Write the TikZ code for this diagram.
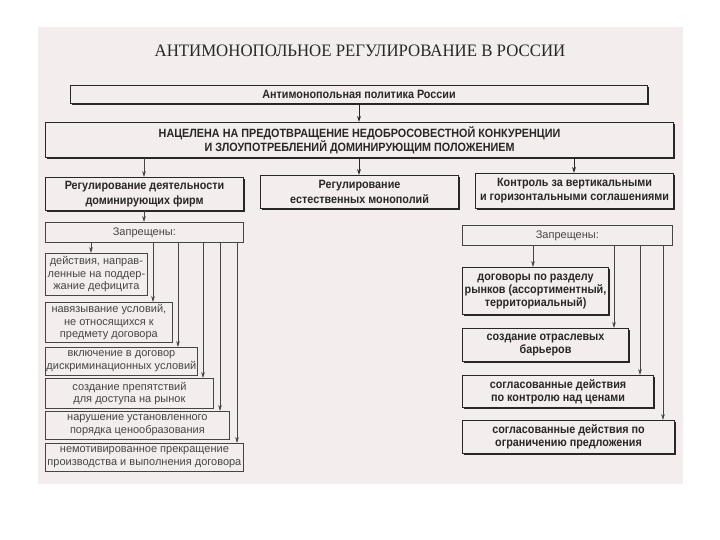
\documentclass[tikz,border=0pt]{standalone}
\usepackage{fontspec}
\setmainfont{Liberation Sans}
\newfontfamily\titlefont[FakeStretch=0.96]{Liberation Serif}
\newfontfamily\narfont[FakeStretch=0.9]{Liberation Sans}
\usetikzlibrary{arrows.meta,shadows}
\definecolor{paper}{RGB}{243,238,237}
\definecolor{ink}{RGB}{40,38,38}
\definecolor{greyink}{RGB}{70,68,68}
\tikzset{
  mainbox/.style={draw=ink, line width=1.1pt, fill=paper, inner sep=0pt, align=center,
    anchor=north west, text=ink,
    font=\narfont\bfseries\fontsize{12}{15}\selectfont,
    drop shadow={shadow xshift=1.3pt, shadow yshift=-1.3pt, fill=ink, opacity=1}},
  zbox/.style={draw=greyink, line width=0.7pt, fill=paper, inner sep=0pt, align=center,
    anchor=north west, text=greyink, font=\fontsize{11}{13}\selectfont},
  listbox/.style={draw=greyink, line width=0.8pt, fill=paper, inner sep=0pt, align=center,
    anchor=north west, text=greyink, font=\fontsize{11}{12.6}\selectfont,
    drop shadow={shadow xshift=1pt, shadow yshift=-1pt, fill=greyink, opacity=1}},
  rbox/.style={mainbox, font=\narfont\bfseries\fontsize{12}{13}\selectfont},
  arr/.style={draw=greyink, line width=0.7pt, -{Stealth[length=6pt,width=3.6pt]}},
  darr/.style={draw=ink, line width=1pt, -{Stealth[length=6pt,width=3.8pt]}},
}
\begin{document}
\begin{tikzpicture}[x=1pt,y=-1pt]
\useasboundingbox (0,0) rectangle (720,540);
\fill[white] (0,0) rectangle (720,540);
\fill[paper] (38,27) rectangle (683,484);

\node[font=\titlefont\fontsize{17.5}{19}\selectfont, text=ink] (title) at (360,51)
  {АНТИМОНОПОЛЬНОЕ РЕГУЛИРОВАНИЕ В РОССИИ};

\node[mainbox, minimum width=577pt, minimum height=18pt] (pol) at (70,85)
  {Антимонопольная политика России};
\node[mainbox, minimum width=628pt, minimum height=35pt,
  font=\narfont\bfseries\fontsize{12}{12.5}\selectfont] (aim) at (45,122)
  {НАЦЕЛЕНА НА ПРЕДОТВРАЩЕНИЕ НЕДОБРОСОВЕСТНОЙ КОНКУРЕНЦИИ\\И ЗЛОУПОТРЕБЛЕНИЙ ДОМИНИРУЮЩИМ ПОЛОЖЕНИЕМ};

\node[mainbox, minimum width=198pt, minimum height=33pt] (L) at (45,177)
  {Регулирование деятельности\\доминирующих фирм};
\node[mainbox, minimum width=198pt, minimum height=33pt] (M) at (260,175)
  {Регулирование\\естественных монополий};
\node[mainbox, minimum width=198pt, minimum height=35pt,
  font=\narfont\bfseries\fontsize{12}{14}\selectfont] (R) at (475,173)
  {Контроль за вертикальными\\и горизонтальными соглашениями};

\coordinate (xl) at (144,0);
\coordinate (xm) at (359,0);
\coordinate (xr) at (574,0);
\draw[darr] (pol.south -| xm) -- (aim.north -| xm);
\draw[arr] (aim.south -| xl) -- (L.north -| xl);
\draw[darr] (aim.south -| xm) -- (M.north -| xm);
\draw[darr] (aim.south -| xr) -- (R.north -| xr);

% left branch
\node[zbox, minimum width=198pt, minimum height=20pt] (ZL) at (45,222) {Запрещены:};
\draw[arr] (L.south -| xl) -- (ZL.north -| xl);

\node[listbox, minimum width=102pt, minimum height=42pt] (a1) at (45,253)
  {действия, направ-\\ленные на поддер-\\жание дефицита};
\node[listbox, minimum width=127pt, minimum height=40pt] (a2) at (45,302)
  {навязывание условий,\\не относящихся к\\предмету договора};
\node[listbox, minimum width=152pt, minimum height=28pt] (a3) at (45,347)
  {включение в договор\\дискриминационных условий};
\node[listbox, minimum width=168pt, minimum height=30pt] (a4) at (45,378)
  {создание препятствий\\для доступа на рынок};
\node[listbox, minimum width=184pt, minimum height=28pt] (a5) at (45,411)
  {нарушение установленного\\порядка ценообразования};
\node[listbox, minimum width=198pt, minimum height=28pt] (a6) at (45,443)
  {немотивированное прекращение\\производства и выполнения договора};

\coordinate (l1) at (91,0);
\coordinate (l2) at (153,0);
\coordinate (l3) at (178,0);
\coordinate (l4) at (203,0);
\coordinate (l5) at (220,0);
\coordinate (l6) at (237,0);
\draw[arr] (ZL.south -| l1) -- (a1.north -| l1);
\draw[arr] (ZL.south -| l2) -- (a2.north -| l2);
\draw[arr] (ZL.south -| l3) -- (a3.north -| l3);
\draw[arr] (ZL.south -| l4) -- (a4.north -| l4);
\draw[arr] (ZL.south -| l5) -- (a5.north -| l5);
\draw[arr] (ZL.south -| l6) -- (a6.north -| l6);

% right branch
\node[zbox, minimum width=210pt, minimum height=20pt] (ZR) at (462,225) {Запрещены:};

\node[rbox, minimum width=146pt, minimum height=47pt] (b1) at (462,267)
  {договоры по разделу\\рынков (ассортиментный,\\территориальный)};
\node[rbox, minimum width=166pt, minimum height=33pt] (b2) at (462,328)
  {создание отраслевых\\барьеров};
\node[rbox, minimum width=191pt, minimum height=32pt] (b3) at (462,375)
  {согласованные действия\\по контролю над ценами};
\node[rbox, minimum width=212pt, minimum height=33pt] (b4) at (462,420)
  {согласованные действия по\\ограничению предложения};

\coordinate (r1) at (533,0);
\coordinate (r2) at (614,0);
\coordinate (r3) at (640,0);
\coordinate (r4) at (663,0);
\draw[arr] (ZR.south -| r1) -- (b1.north -| r1);
\draw[arr] (ZR.south -| r2) -- (b2.north -| r2);
\draw[arr] (ZR.south -| r3) -- (b3.north -| r3);
\draw[arr] (ZR.south -| r4) -- (b4.north -| r4);
\end{tikzpicture}
\end{document}
